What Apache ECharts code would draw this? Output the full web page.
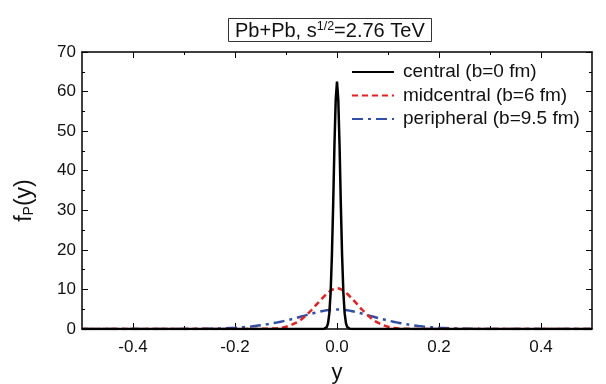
<!DOCTYPE html>
<html><head><meta charset="utf-8">
<script src="https://cdn.jsdelivr.net/npm/echarts@6/dist/echarts.min.js"></script>
<style>html,body{margin:0;padding:0;background:#fff}#c{width:606px;height:384px}</style>
</head><body><div id="c"></div>
<script>
// central (b=0 fm)
const centralX = [-0.5, -0.03, -0.025, -0.02, -0.0175, -0.015, -0.0125, -0.01, -0.0075, -0.005, -0.0025, 0, 0.0025, 0.005, 0.0075, 0.01, 0.0125, 0.015, 0.0175, 0.02, 0.025, 0.03, 0.5];
const centralY = [0, 0, 0.05, 0.5, 1.5, 4.0, 9.2, 18.5, 31.5, 46.5, 58.0, 62.5, 58.0, 46.5, 31.5, 18.5, 9.2, 4.0, 1.5, 0.5, 0.05, 0, 0];
// midcentral (b=6 fm)
const midX = [-0.5, -0.2, -0.16, -0.14, -0.12, -0.11, -0.1, -0.09, -0.08, -0.07, -0.06, -0.05, -0.04, -0.03, -0.02, -0.01, 0, 0.01, 0.02, 0.03, 0.04, 0.05, 0.06, 0.07, 0.08, 0.09, 0.1, 0.11, 0.12, 0.14, 0.16, 0.2, 0.5];
const midY = [0, 0, 0.02, 0.05, 0.15, 0.3, 0.55, 1.0, 1.6, 2.4, 3.5, 4.8, 6.2, 7.6, 8.9, 9.9, 10.3, 9.9, 8.9, 7.6, 6.2, 4.8, 3.5, 2.4, 1.6, 1.0, 0.55, 0.3, 0.15, 0.05, 0.02, 0, 0];
// peripheral (b=9.5 fm)
const periX = [-0.5, -0.3, -0.26, -0.24, -0.22, -0.2, -0.19, -0.18, -0.17, -0.16, -0.15, -0.14, -0.13, -0.12, -0.11, -0.1, -0.09, -0.08, -0.07, -0.06, -0.05, -0.04, -0.03, -0.02, -0.01, 0, 0.01, 0.02, 0.03, 0.04, 0.05, 0.06, 0.07, 0.08, 0.09, 0.1, 0.11, 0.12, 0.13, 0.14, 0.15, 0.16, 0.17, 0.18, 0.19, 0.2, 0.22, 0.24, 0.26, 0.3, 0.5];
const periY = [0, 0.02, 0.05, 0.1, 0.18, 0.3, 0.38, 0.48, 0.6, 0.75, 0.92, 1.12, 1.35, 1.6, 1.85, 2.15, 2.45, 2.8, 3.15, 3.5, 3.85, 4.2, 4.5, 4.75, 4.9, 4.9, 4.9, 4.75, 4.5, 4.2, 3.85, 3.5, 3.15, 2.8, 2.45, 2.15, 1.85, 1.6, 1.35, 1.12, 0.92, 0.75, 0.6, 0.48, 0.38, 0.3, 0.18, 0.1, 0.05, 0.02, 0];
const xMajor = [-0.4, -0.2, 0, 0.2, 0.4];
const xMinor = [-0.3, -0.1, 0.1, 0.3];
const seriesNames = ['central (b=0 fm)', 'midcentral (b=6 fm)', 'peripheral (b=9.5 fm)'];

const F = 'Liberation Sans, Arial, sans-serif';
const zip = (xs, ys) => xs.map((x, i) => [x, ys[i]]);
const chart = echarts.init(document.getElementById('c'), null, {renderer: 'canvas'});
const frame = {show: true, onZero: false, lineStyle: {color: '#000', width: 1.5}};
const noLine = {show: false, onZero: false};
chart.setOption({
  animation: false,
  title: {
    text: 'Pb+Pb, s{sup|1/2}=2.76 TeV',
    left: 228, top: 18,
    borderColor: '#333', borderWidth: 1, padding: [2, 7, 1, 7],
    textStyle: {fontFamily: F, fontSize: 20, fontWeight: 'normal', color: '#111',
      rich: {sup: {fontSize: 12.5, verticalAlign: 'top', padding: [0, 0, 9, 0], fontFamily: F, color: '#111'}}}
  },
  legend: {
    orient: 'vertical', left: 346, top: 56, itemWidth: 42, itemHeight: 14, itemGap: 1.5,
    itemStyle: {opacity: 0},
    textStyle: {fontFamily: F, fontSize: 19, color: '#111', lineHeight: 22, padding: [0, 0, 0, 4]},
    data: seriesNames
  },
  grid: {left: 82, right: 14, top: 52, bottom: 55, outerBoundsMode: 'none', containLabel: false},
  xAxis: [{
    type: 'value', min: -0.5, max: 0.5, position: 'bottom',
    name: 'y', nameLocation: 'middle', nameGap: 33,
    nameTextStyle: {fontFamily: F, fontSize: 22, color: '#111'},
    axisLine: frame, splitLine: {show: false},
    axisTick: {inside: true, length: 6, customValues: xMajor, lineStyle: {color: '#000'}},
    axisLabel: {customValues: xMajor, fontFamily: F, fontSize: 17, color: '#111', margin: 10, formatter: v => v.toFixed(1)}
  }, {
    type: 'value', min: -0.5, max: 0.5, position: 'bottom',
    axisLine: noLine, splitLine: {show: false}, axisLabel: {show: false},
    axisTick: {inside: true, length: 3, customValues: xMinor, lineStyle: {color: '#000'}}
  }, {
    type: 'value', min: -0.5, max: 0.5, position: 'top',
    axisLine: frame, splitLine: {show: false}, axisLabel: {show: false},
    axisTick: {inside: true, length: 6, customValues: xMajor, lineStyle: {color: '#000'}}
  }, {
    type: 'value', min: -0.5, max: 0.5, position: 'top',
    axisLine: noLine, splitLine: {show: false}, axisLabel: {show: false},
    axisTick: {inside: true, length: 3, customValues: xMinor, lineStyle: {color: '#000'}}
  }],
  yAxis: [{
    type: 'value', min: 0, max: 70, interval: 10, position: 'left',
    name: 'f{sub|P}(y)', nameLocation: 'middle', nameGap: 46, nameRotate: 90,
    nameTextStyle: {fontFamily: F, fontSize: 23, color: '#111', padding: [0, 20, 0, 0],
      rich: {sub: {fontSize: 14, verticalAlign: 'bottom', padding: [9, 0, 0, 0], fontFamily: F, color: '#111'}}},
    axisLine: frame, splitLine: {show: false},
    axisTick: {inside: true, length: 6, lineStyle: {color: '#000'}},
    minorTick: {show: true, splitNumber: 2, length: 3, lineStyle: {color: '#000'}},
    axisLabel: {fontFamily: F, fontSize: 17, color: '#111', margin: 6}
  }, {
    type: 'value', min: 0, max: 70, interval: 10, position: 'right',
    axisLine: frame, splitLine: {show: false}, axisLabel: {show: false},
    axisTick: {inside: true, length: 6, lineStyle: {color: '#000'}},
    minorTick: {show: true, splitNumber: 2, length: 3, lineStyle: {color: '#000'}}
  }],
  series: [
    {name: seriesNames[2], type: 'line', data: zip(periX, periY), showSymbol: false, symbol: 'none', smooth: 0.3,
     lineStyle: {color: '#2f4fa8', width: 2.5, type: [11, 5, 3, 5]}, itemStyle: {color: '#2f4fa8'}, z: 2},
    {name: seriesNames[1], type: 'line', data: zip(midX, midY), showSymbol: false, symbol: 'none', smooth: 0.3,
     lineStyle: {color: '#ee1c1c', width: 2.5, type: [6, 4]}, itemStyle: {color: '#ee1c1c'}, z: 3},
    {name: seriesNames[0], type: 'line', data: zip(centralX, centralY), showSymbol: false, symbol: 'none',
     lineStyle: {color: '#000', width: 2.5}, itemStyle: {color: '#000'}, z: 4}
  ]
});
</script></body></html>
